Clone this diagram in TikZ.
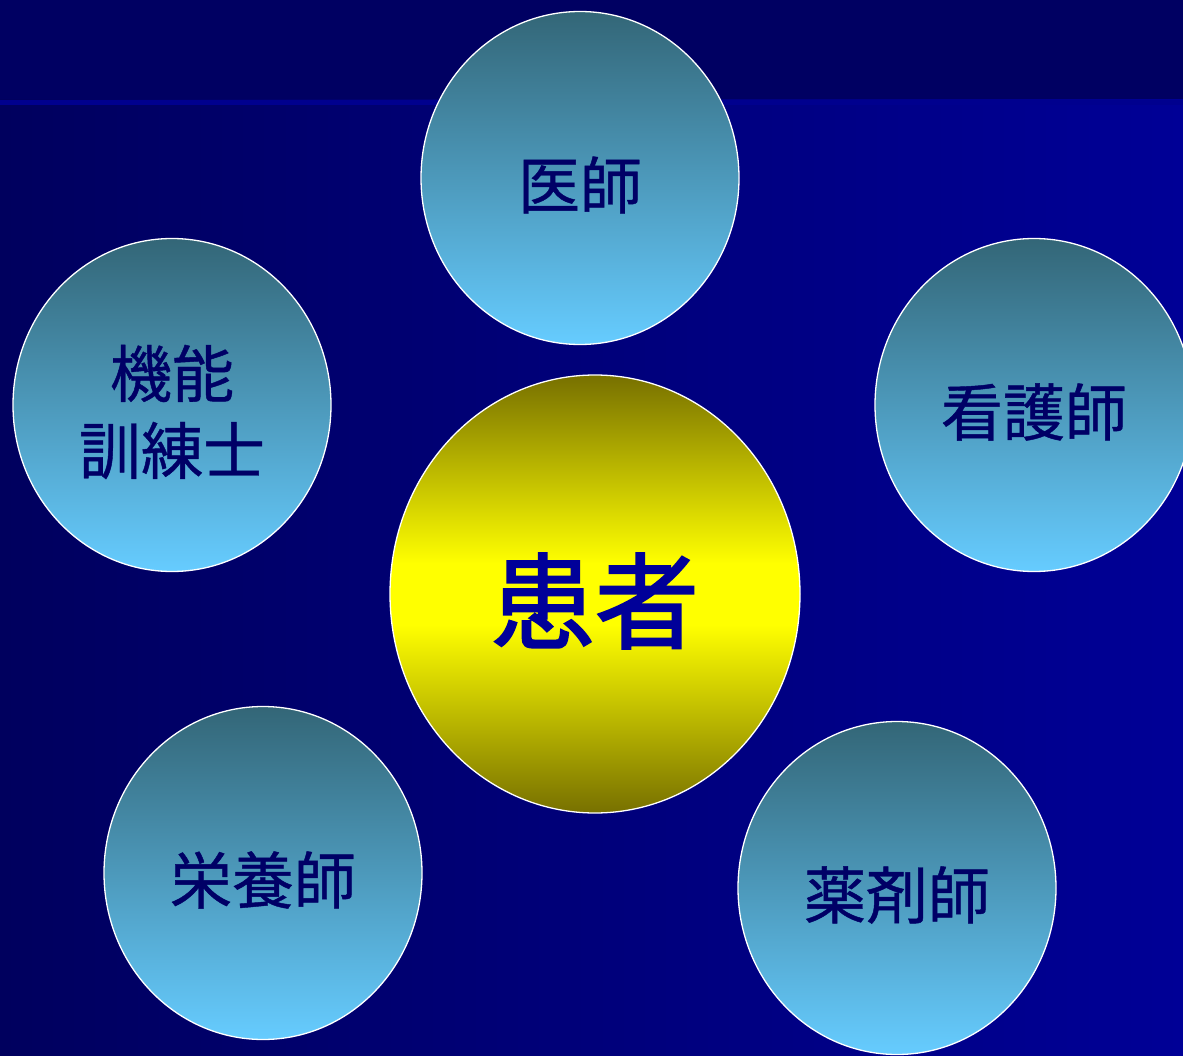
\documentclass[tikz,border=0pt]{standalone}
\usepackage{fontspec}
\usepackage{xcolor}
\newfontfamily\jpfont[FakeBold=0.7]{Noto Sans CJK JP}
\newfontfamily\jpgrosso[FakeBold=2]{Noto Sans CJK JP}
\usetikzlibrary{shapes.geometric}

\definecolor{faixa}{HTML}{000062}
\definecolor{fundoesq}{HTML}{00005E}
\definecolor{fundodir}{HTML}{000096}
\definecolor{linha}{HTML}{00008E}
\definecolor{azultopo}{HTML}{336677}
\definecolor{azulbase}{HTML}{66CCFF}
\definecolor{oliva}{HTML}{777000}
\definecolor{texto}{HTML}{000066}
\definecolor{textokanja}{HTML}{000099}

\pgfdeclareverticalshading{amarelo}{100bp}{color(0bp)=(oliva); color(25bp)=(oliva);
  color(46.5bp)=(yellow); color(53.5bp)=(yellow); color(75bp)=(oliva); color(100bp)=(oliva)}

% desce o texto sem mudar a caixa
\newcommand{\rotulo}[1]{\raisebox{-7pt}[\height][\depth]{#1}}

\begin{document}
\begin{tikzpicture}[x=1pt, y=-1pt,
		    every node/.style={draw=white, line width=1.3pt, ellipse, inner sep=0pt, align=center}
		]
		\tikzset{
		    equipe/.style={minimum width=318pt, minimum height=333pt,
		        top color=azultopo, bottom color=azulbase, text=texto,
		        font=\jpfont\fontsize{62pt}{77pt}\selectfont},
		    kanja/.style={minimum width=410pt, minimum height=438pt,
		        shading=amarelo, text=textokanja,
		        font=\jpgrosso\fontsize{104pt}{110pt}\selectfont}
		}
		\useasboundingbox (0,0) rectangle (1183,1056);
		\clip (0,0) rectangle (1183,1056);
		% fundo
		\fill[faixa] (0,0) rectangle (1183,100);
		\shade[left color=fundoesq, right color=fundodir] (0,100) rectangle (1183,1056);
		\fill[linha] (0,100) rectangle (1183,105);
		% circulos
		\node[kanja] (kanja) at (595,594) {\rotulo{患者}};
		\node[equipe] (ishi) at (580,178) {\rotulo{医師}};
		\node[equipe] (kinou) at (172,405) {\rotulo{機能}\\\rotulo{訓練士}};
		\node[equipe] (kango) at (1034,405) {\rotulo{看護師}};
		\node[equipe] (eiyou) at (263,873) {\rotulo{栄養師}};
		\node[equipe] (yakuzai) at (897,888) {\rotulo{薬剤師}};
		\end{tikzpicture}
\end{document}
